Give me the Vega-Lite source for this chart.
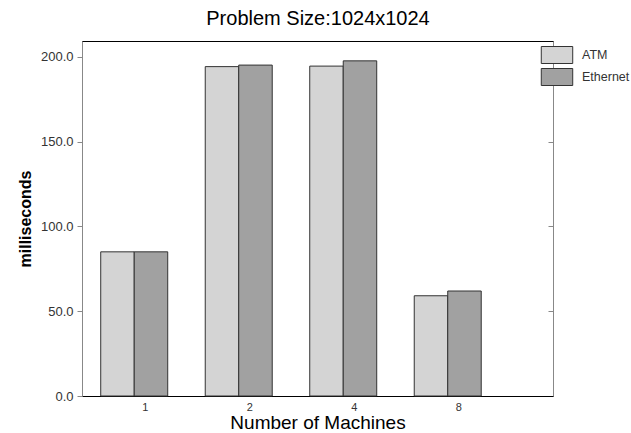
{
  "$schema": "https://vega.github.io/schema/vega-lite/v6.json",
  "autosize": "none",
  "padding": {"left": 82, "top": 41, "right": 78, "bottom": 37},
  "width": 471,
  "height": 355,
  "data": {"values": [
    {"machines": "1", "network": "ATM", "ms": 85.0},
    {"machines": "1", "network": "Ethernet", "ms": 85.0},
    {"machines": "2", "network": "ATM", "ms": 194.2},
    {"machines": "2", "network": "Ethernet", "ms": 195.1},
    {"machines": "4", "network": "ATM", "ms": 194.5},
    {"machines": "4", "network": "Ethernet", "ms": 197.6},
    {"machines": "8", "network": "ATM", "ms": 59.1},
    {"machines": "8", "network": "Ethernet", "ms": 61.9}
  ]},
  "layer": [
    {
      "mark": {"type": "bar", "stroke": "#333", "strokeWidth": 1, "opacity": 1},
      "encoding": {
        "x": {"field": "machines", "type": "ordinal", "sort": ["1", "2", "4", "8"],
          "scale": {"paddingInner": 0.359, "paddingOuter": 0.433, "align": 0.207},
          "axis": {"title": "Number of Machines", "labelAngle": 0, "ticks": false, "domain": true, "domainColor": "#000", "labelOffset": 11, "labelPadding": 5, "labelFontSize": 11, "labelColor": "#333", "titleFontSize": 19, "titleFontWeight": "normal", "titleColor": "#000", "titlePadding": 1}},
        "xOffset": {"field": "network", "type": "nominal", "scale": {"paddingInner": 0, "paddingOuter": 0}},
        "y": {"field": "ms", "type": "quantitative", "scale": {"domain": [0, 209.3], "nice": false, "zero": true},
          "axis": {"title": "milliseconds", "values": [0, 50, 100, 150, 200], "format": ".1f", "grid": false, "tickSize": 5, "tickColor": "#888", "domainColor": "#888", "labelFontSize": 13, "labelColor": "#333", "labelPadding": 4, "titleFontSize": 16, "titleFontWeight": "bold", "titleColor": "#000", "titlePadding": 7}},
        "fill": {"field": "network", "type": "nominal", "scale": {"domain": ["ATM", "Ethernet"], "range": ["#d4d4d4", "#a1a1a1"]},
          "legend": {"title": null, "orient": "none", "legendX": 466, "legendY": 5, "padding": 0, "rowPadding": 0, "symbolType": "M-1.85,-1H1.85V1H-1.85Z", "symbolSize": 289, "symbolStrokeColor": "#333", "symbolStrokeWidth": 1, "symbolOpacity": 1, "labelFontSize": 12.5, "labelColor": "#333", "labelOffset": 16}}
      }
    },
    {
      "mark": {"type": "bar", "opacity": 0},
      "encoding": {
        "x": {"field": "machines", "type": "ordinal", "sort": ["1", "2", "4", "8"],
          "axis": {"orient": "top", "title": "Problem Size:1024x1024", "labels": false, "ticks": false, "domainColor": "#000", "titleFontSize": 20, "titleFontWeight": "normal", "titleColor": "#000", "titlePadding": 13}},
        "y": {"field": "ms", "type": "quantitative",
          "axis": {"orient": "right", "title": null, "labels": false, "values": [50, 100, 150, 200], "grid": false, "tickSize": -5, "tickColor": "#888", "domainColor": "#888"}}
      }
    }
  ],
  "resolve": {"axis": {"y": "independent", "x": "independent"}},
  "config": {"font": "Liberation Sans", "view": {"stroke": "#000", "strokeWidth": 1}, "axis": {"labelFont": "Liberation Sans", "titleFont": "Liberation Sans"}, "legend": {"labelFont": "Liberation Sans"}}
}
